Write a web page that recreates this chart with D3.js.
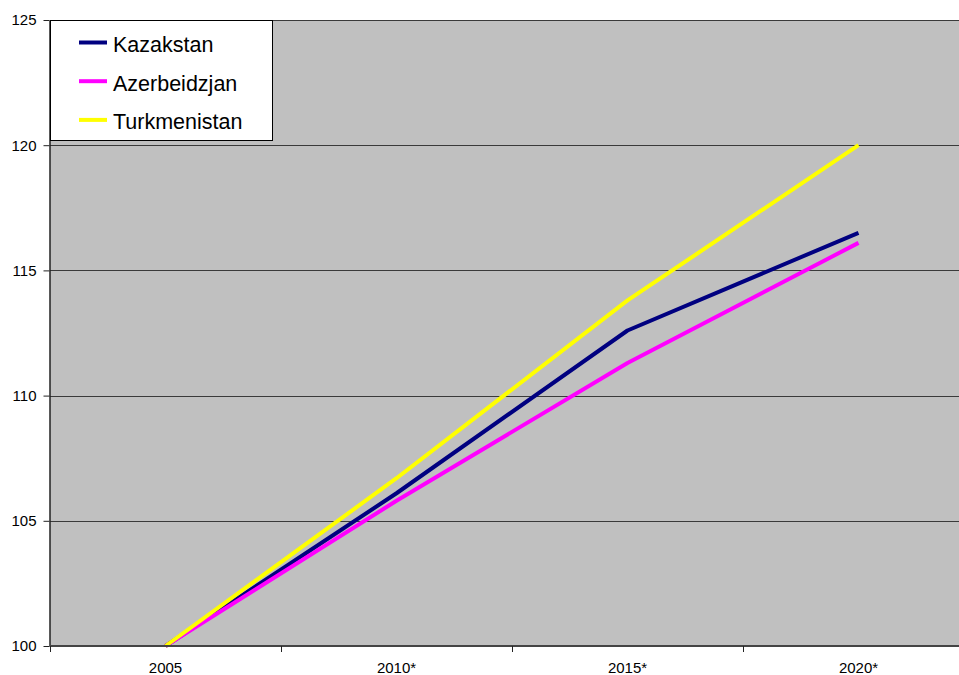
<!DOCTYPE html>
<html>
<head>
<meta charset="utf-8">
<script src="https://cdn.jsdelivr.net/npm/d3@7"></script>
<style>
  body { margin: 0; background: #fff; }
  svg { display: block; font-family: Arial, "Liberation Sans", sans-serif; }
</style>
</head>
<body>
<svg id="chart" width="959" height="675"></svg>
<script>
// Categories and index values (2005 = 100)
const years = ["2005", "2010*", "2015*", "2020*"];
const kazakstan = [100, 106.1, 112.6, 116.5];
const azerbeidzjan = [100, 105.8, 111.3, 116.1];
const turkmenistan = [100, 106.7, 113.8, 120.0];
const seriesNames = ["Kazakstan", "Azerbeidzjan", "Turkmenistan"];
const seriesColors = ["#000080", "#ff00ff", "#ffff00"];
const yTicks = [100, 105, 110, 115, 120, 125];

const series = [kazakstan, azerbeidzjan, turkmenistan].map((v, i) => ({
  name: seriesNames[i], color: seriesColors[i], values: v
}));

const svg = d3.select("#chart");
const plotLeft = 50, plotTop = 20, plotBottom = 646, bandW = 231;
const plotRight = plotLeft + bandW * years.length;

const x = d3.scaleBand().domain(years).range([plotLeft, plotRight]).paddingInner(0).paddingOuter(0);
const y = d3.scaleLinear().domain([100, 125]).range([plotBottom, plotTop]);

// plot background
svg.append("rect").attr("x", plotLeft).attr("y", plotTop)
  .attr("width", plotRight - plotLeft).attr("height", plotBottom - plotTop)
  .attr("fill", "#c0c0c0");

// horizontal gridlines
svg.append("g").selectAll("line").data(yTicks.slice(1)).join("line")
  .attr("x1", plotLeft).attr("x2", plotRight)
  .attr("y1", d => Math.round(y(d)) + 0.5).attr("y2", d => Math.round(y(d)) + 0.5)
  .attr("stroke", "#3a3a3a").attr("stroke-width", 1);

// series lines
const line = d3.line()
  .x((d, i) => x(years[i]) + x.bandwidth() / 2)
  .y(d => y(d));

svg.append("g").selectAll("path").data(series).join("path")
  .attr("d", d => line(d.values))
  .attr("fill", "none")
  .attr("stroke", d => d.color)
  .attr("stroke-width", 4)
  .attr("stroke-linejoin", "round");

// y axis
const yAxis = svg.append("g")
  .attr("transform", `translate(${plotLeft - 0.5},0)`)
  .call(d3.axisLeft(y).tickValues(yTicks).tickSize(6).tickSizeOuter(0).tickPadding(7));
yAxis.select(".domain").attr("stroke", "#222").attr("stroke-width", 1.5);
yAxis.selectAll(".tick line").attr("stroke", "#222");
yAxis.selectAll("text").attr("font-size", 15).attr("fill", "#000")
  .attr("font-family", "Arial, 'Liberation Sans', sans-serif");

// x axis: ticks at band boundaries
const xAxisG = svg.append("g").attr("transform", `translate(0,${plotBottom})`);
xAxisG.append("line").attr("x1", plotLeft).attr("x2", plotRight)
  .attr("y1", 0).attr("y2", 0).attr("stroke", "#444").attr("stroke-width", 2);
const bounds = years.map(d => x(d)).concat([plotRight]);
xAxisG.selectAll("line.tk").data(bounds).join("line").attr("class", "tk")
  .attr("x1", d => Math.round(d) + 0.5).attr("x2", d => Math.round(d) + 0.5)
  .attr("y1", 0).attr("y2", 6).attr("stroke", "#222");
xAxisG.selectAll("text").data(years).join("text")
  .attr("x", d => x(d) + x.bandwidth() / 2)
  .attr("y", 27)
  .attr("text-anchor", "middle")
  .attr("font-size", 15)
  .attr("fill", "#000")
  .text(d => d);

// legend
const lg = svg.append("g");
lg.append("rect").attr("x", plotLeft + 0.5).attr("y", plotTop + 0.5)
  .attr("width", 222).attr("height", 120)
  .attr("fill", "#fff").attr("stroke", "#000").attr("stroke-width", 1);
const items = lg.selectAll("g").data(series).join("g")
  .attr("transform", (d, i) => `translate(0,${42.5 + i * 38.7})`);
items.append("line").attr("x1", 79).attr("x2", 107).attr("y1", 0).attr("y2", 0)
  .attr("stroke", d => d.color).attr("stroke-width", 4);
items.append("text").attr("x", 113).attr("y", 9.5)
  .attr("font-size", 21.5).attr("fill", "#000")
  .text(d => d.name);
</script>
</body>
</html>
